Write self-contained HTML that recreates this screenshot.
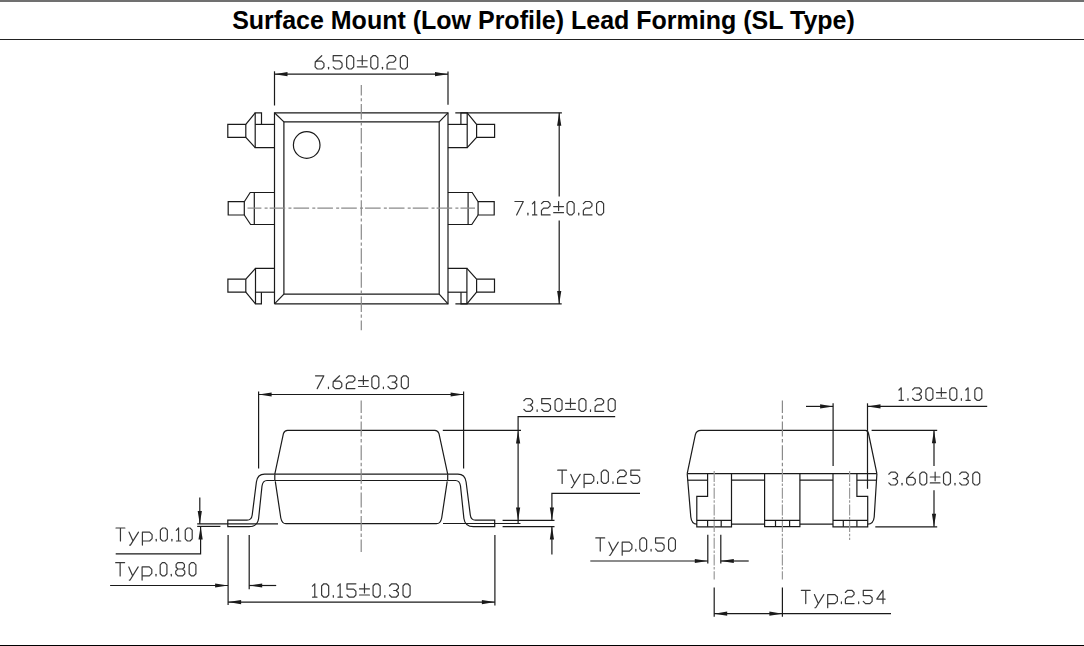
<!DOCTYPE html>
<html><head><meta charset="utf-8"><style>
html,body{margin:0;padding:0;background:#fff;}
body{width:1084px;height:646px;position:relative;overflow:hidden;}
.top{position:absolute;left:0;top:0;width:1084px;height:2px;background:#707070;}
.hdr{position:absolute;left:0;top:39px;width:1084px;height:1px;background:#222;}
.bot{position:absolute;left:0;top:645px;width:1084px;height:1px;background:#000;}
.title{position:absolute;left:1.5px;top:6px;width:1084px;text-align:center;font:bold 25px "Liberation Sans",sans-serif;color:#000;white-space:nowrap;}
svg{position:absolute;left:0;top:0;}
svg line,svg polyline,svg path,svg circle{fill:none;stroke:#1a1a1a;stroke-width:1.2;}
svg .txt path{stroke:#383838;stroke-width:1.2;vector-effect:non-scaling-stroke;stroke-linejoin:round;stroke-linecap:round;}
svg .ah{fill:#1a1a1a;stroke:none;}
svg .cl{stroke:#8a8a8a;stroke-dasharray:15.6 3.2 3 2.05;stroke-dashoffset:1.7;}
svg .clv{stroke:#8a8a8a;stroke-dasharray:15.5 2.7 3.2 2.65;stroke-dashoffset:5.05;}
svg .clv2{stroke:#8a8a8a;stroke-dasharray:15 2.5 3.5 2.6;stroke-dashoffset:2.6;}
svg .clv3{stroke:#9a9a9a;stroke-dasharray:11 1.6 2.5 1.6;}
</style></head><body>
<div class="top"></div>
<div class="title">Surface Mount (Low Profile) Lead Forming (SL Type)</div>
<div class="hdr"></div>
<div class="bot"></div>
<svg width="1084" height="646" viewBox="0 0 1084 646">
<polyline points="274.5,303.8 274.5,112.8 448,112.8 448,303.8 274.5,303.8"/>
<polyline points="283.9,294.2 283.9,121.9 439.2,121.9 439.2,294.2 283.9,294.2"/>
<line x1="274.5" y1="112.8" x2="283.9" y2="121.9"/>
<line x1="448" y1="112.8" x2="439.2" y2="121.9"/>
<line x1="274.5" y1="303.8" x2="283.9" y2="294.2"/>
<line x1="448" y1="303.8" x2="439.2" y2="294.2"/>
<circle cx="306.7" cy="145" r="13.3"/>
<polyline points="274.5,124.4 255.2,124.4"/>
<polyline points="274.5,147.7 255.2,147.7 255.2,112.8 261.5,112.8 261.5,124.4"/>
<polyline points="255.2,112.8 245.8,124.4 227.8,124.4 227.8,137.4 245.8,137.4 255.2,147.7"/>
<line x1="245.8" y1="124.4" x2="245.8" y2="137.4"/>
<polyline points="274.5,192.5 250.2,192.5 244.3,201.7 228.2,201.7 228.2,215 244.3,215 250.6,224.5 274.5,224.5"/>
<line x1="244.3" y1="201.7" x2="244.3" y2="215"/>
<line x1="254.3" y1="192.5" x2="254.3" y2="224.5"/>
<polyline points="274.5,292.2 255.5,292.2"/>
<polyline points="274.5,268.4 255.5,268.4 255.5,303.8 261.4,303.8 261.4,292.2"/>
<polyline points="255.5,268.4 245.8,279.2 227.9,279.2 227.9,292.2 245.8,292.2 255.5,303.8"/>
<line x1="245.8" y1="279.2" x2="245.8" y2="292.2"/>
<g transform="translate(722.4,0) scale(-1,1)"><polyline points="274.5,124.4 255.2,124.4"/><polyline points="274.5,147.7 255.2,147.7 255.2,112.8 261.5,112.8 261.5,124.4"/><polyline points="255.2,112.8 245.8,124.4 227.8,124.4 227.8,137.4 245.8,137.4 255.2,147.7"/><line x1="245.8" y1="124.4" x2="245.8" y2="137.4"/><polyline points="274.5,192.5 250.2,192.5 244.3,201.7 228.2,201.7 228.2,215 244.3,215 250.6,224.5 274.5,224.5"/><line x1="244.3" y1="201.7" x2="244.3" y2="215"/><line x1="254.3" y1="192.5" x2="254.3" y2="224.5"/><polyline points="274.5,292.2 255.5,292.2"/><polyline points="274.5,268.4 255.5,268.4 255.5,303.8 261.4,303.8 261.4,292.2"/><polyline points="255.5,268.4 245.8,279.2 227.9,279.2 227.9,292.2 245.8,292.2 255.5,303.8"/><line x1="245.8" y1="279.2" x2="245.8" y2="292.2"/></g>
<line x1="247.5" y1="208.1" x2="475" y2="208.1" class="cl"/>
<line x1="361.3" y1="85" x2="361.3" y2="330.2" class="clv"/>
<line x1="274.5" y1="71.3" x2="274.5" y2="105.5"/>
<line x1="448" y1="71.4" x2="448" y2="104.8"/>
<line x1="274.5" y1="74.2" x2="448" y2="74.2"/>
<polygon class="ah" points="274.50,74.20 287.50,72.10 287.50,76.30"/>
<polygon class="ah" points="448.00,74.20 435.00,72.10 435.00,76.30"/>
<g transform="translate(315.10,55.70) scale(1.0054,0.9925)" class="txt"><path transform="translate(0.00,0)" d="M6.6,0 L0.2,6.2 L0,11.2 L2.2,13.4 L6.6000000000000005,13.4 L8.8,11.2 L8.8,7.7 L6.6000000000000005,5.5 L2.2,5.5 L0.2,6.2"/><path transform="translate(13.40,0)" d="M0,11.700000000000001 L0,13.4"/><path transform="translate(18.00,0)" d="M8.8,0 L0,0 L0,5.3 L6.6000000000000005,5.3 L8.8,7.5 L8.8,11.2 L6.6000000000000005,13.4 L2.2,13.4 L0,11.2"/><path transform="translate(31.40,0)" d="M2.2,0 L4.8,0 L7.0,2.2 L7.0,11.2 L4.8,13.4 L2.2,13.4 L0,11.2 L0,2.2 Z"/><path transform="translate(42.00,0)" d="M0,5.1 L9.8,5.1 M4.9,0 L4.9,9.1 M0,11.2 L9.8,11.2"/><path transform="translate(55.40,0)" d="M2.2,0 L4.8,0 L7.0,2.2 L7.0,11.2 L4.8,13.4 L2.2,13.4 L0,11.2 L0,2.2 Z"/><path transform="translate(67.00,0)" d="M0,11.700000000000001 L0,13.4"/><path transform="translate(71.60,0)" d="M0,2.2 L2.2,0 L6.3999999999999995,0 L8.6,2.2 L8.6,4.4 L6.3999999999999995,6.6000000000000005 L2.2,6.6000000000000005 L0,8.8 L0,13.4 L8.6,13.4"/><path transform="translate(84.80,0)" d="M2.2,0 L4.8,0 L7.0,2.2 L7.0,11.2 L4.8,13.4 L2.2,13.4 L0,11.2 L0,2.2 Z"/></g>
<line x1="455.3" y1="112.8" x2="561.9" y2="112.8"/>
<line x1="455.4" y1="303.9" x2="561.7" y2="303.9"/>
<line x1="559.2" y1="112.8" x2="559.2" y2="196.6"/>
<line x1="559.2" y1="220.4" x2="559.2" y2="303.9"/>
<polygon class="ah" points="559.20,112.80 557.10,125.80 561.30,125.80"/>
<polygon class="ah" points="559.20,303.90 557.10,290.90 561.30,290.90"/>
<g transform="translate(514.90,201.50) scale(1.0023,1.0000)" class="txt"><path transform="translate(0.00,0)" d="M0,0 L8.4,0 L1.7,13.4"/><path transform="translate(13.00,0)" d="M0,11.700000000000001 L0,13.4"/><path transform="translate(17.60,0)" d="M-0.1499999999999999,2.4 L2.15,0 L2.15,13.4 M0,13.4 L4.3,13.4"/><path transform="translate(26.50,0)" d="M0,2.2 L2.2,0 L6.3999999999999995,0 L8.6,2.2 L8.6,4.4 L6.3999999999999995,6.6000000000000005 L2.2,6.6000000000000005 L0,8.8 L0,13.4 L8.6,13.4"/><path transform="translate(38.70,0)" d="M0,5.1 L9.8,5.1 M4.9,0 L4.9,9.1 M0,11.2 L9.8,11.2"/><path transform="translate(52.10,0)" d="M2.2,0 L4.8,0 L7.0,2.2 L7.0,11.2 L4.8,13.4 L2.2,13.4 L0,11.2 L0,2.2 Z"/><path transform="translate(63.70,0)" d="M0,11.700000000000001 L0,13.4"/><path transform="translate(68.30,0)" d="M0,2.2 L2.2,0 L6.3999999999999995,0 L8.6,2.2 L8.6,4.4 L6.3999999999999995,6.6000000000000005 L2.2,6.6000000000000005 L0,8.8 L0,13.4 L8.6,13.4"/><path transform="translate(81.50,0)" d="M2.2,0 L4.8,0 L7.0,2.2 L7.0,11.2 L4.8,13.4 L2.2,13.4 L0,11.2 L0,2.2 Z"/></g>
<path d="M274.8,474.2 L283.4,433.6 Q284.6,430.4 287.5,430.4 L434.9,430.4 Q437.8,430.4 439,433.6 L447.7,474.2"/>
<line x1="274.8" y1="474.2" x2="274.8" y2="480.5"/>
<line x1="447.7" y1="474.2" x2="447.7" y2="480.5"/>
<path d="M275.3,481.4 L280.8,518 Q282,523.7 286,523.7 L436.5,523.7 Q440.5,523.7 441.7,518 L447.2,481.4"/>
<path d="M274.8,474.2 L264.6,474.2 Q257.5,474.2 256.4,482 L252.2,515 Q251.5,520.2 247,520.2 L227.8,520.2 L227.8,526.7 L249,526.7 Q257.5,526.7 258.6,518.5 L262,486 Q262.8,480.5 267,480.5 L274.8,480.5"/>
<g transform="translate(722.5,0) scale(-1,1)"><path d="M274.8,474.2 L264.6,474.2 Q257.5,474.2 256.4,482 L252.2,515 Q251.5,520.2 247,520.2 L227.8,520.2 L227.8,526.7 L249,526.7 Q257.5,526.7 258.6,518.5 L262,486 Q262.8,480.5 267,480.5 L274.8,480.5"/></g>
<line x1="274.8" y1="474.2" x2="447.7" y2="474.2"/>
<line x1="274.8" y1="480.5" x2="447.7" y2="480.5"/>
<line x1="361.2" y1="400.6" x2="361.2" y2="552" class="clv2"/>
<line x1="258.6" y1="391.6" x2="258.6" y2="468.6"/>
<line x1="463.6" y1="391.6" x2="463.6" y2="468.5"/>
<line x1="258.6" y1="394.5" x2="463.6" y2="394.5"/>
<polygon class="ah" points="258.60,394.50 271.60,392.40 271.60,396.60"/>
<polygon class="ah" points="463.60,394.50 450.60,392.40 450.60,396.60"/>
<g transform="translate(315.50,375.80) scale(0.9957,0.9552)" class="txt"><path transform="translate(0.00,0)" d="M0,0 L8.4,0 L1.7,13.4"/><path transform="translate(13.00,0)" d="M0,11.700000000000001 L0,13.4"/><path transform="translate(17.60,0)" d="M6.6,0 L0.2,6.2 L0,11.2 L2.2,13.4 L6.6000000000000005,13.4 L8.8,11.2 L8.8,7.7 L6.6000000000000005,5.5 L2.2,5.5 L0.2,6.2"/><path transform="translate(31.00,0)" d="M0,2.2 L2.2,0 L6.3999999999999995,0 L8.6,2.2 L8.6,4.4 L6.3999999999999995,6.6000000000000005 L2.2,6.6000000000000005 L0,8.8 L0,13.4 L8.6,13.4"/><path transform="translate(43.20,0)" d="M0,5.1 L9.8,5.1 M4.9,0 L4.9,9.1 M0,11.2 L9.8,11.2"/><path transform="translate(56.60,0)" d="M2.2,0 L4.8,0 L7.0,2.2 L7.0,11.2 L4.8,13.4 L2.2,13.4 L0,11.2 L0,2.2 Z"/><path transform="translate(68.20,0)" d="M0,11.700000000000001 L0,13.4"/><path transform="translate(72.80,0)" d="M0,2.2 L2.2,0 L6.6000000000000005,0 L8.8,2.2 L8.8,4.5 L6.6000000000000005,6.7 L6.6000000000000005,6.7 L8.8,8.9 L8.8,11.2 L6.6000000000000005,13.4 L2.2,13.4 L0,11.2 M4.2,6.7 L6.6000000000000005,6.7"/><path transform="translate(86.20,0)" d="M2.2,0 L4.8,0 L7.0,2.2 L7.0,11.2 L4.8,13.4 L2.2,13.4 L0,11.2 L0,2.2 Z"/></g>
<line x1="442.8" y1="430.4" x2="521" y2="430.4"/>
<polyline points="615.2,416.6 518.1,416.6 518.1,523.7"/>
<polygon class="ah" points="518.10,430.40 516.00,443.40 520.20,443.40"/>
<polygon class="ah" points="518.10,520.40 516.00,507.40 520.20,507.40"/>
<g transform="translate(523.80,398.60) scale(0.9956,0.9552)" class="txt"><path transform="translate(0.00,0)" d="M0,2.2 L2.2,0 L6.6000000000000005,0 L8.8,2.2 L8.8,4.5 L6.6000000000000005,6.7 L6.6000000000000005,6.7 L8.8,8.9 L8.8,11.2 L6.6000000000000005,13.4 L2.2,13.4 L0,11.2 M4.2,6.7 L6.6000000000000005,6.7"/><path transform="translate(13.40,0)" d="M0,11.700000000000001 L0,13.4"/><path transform="translate(18.00,0)" d="M8.8,0 L0,0 L0,5.3 L6.6000000000000005,5.3 L8.8,7.5 L8.8,11.2 L6.6000000000000005,13.4 L2.2,13.4 L0,11.2"/><path transform="translate(31.40,0)" d="M2.2,0 L4.8,0 L7.0,2.2 L7.0,11.2 L4.8,13.4 L2.2,13.4 L0,11.2 L0,2.2 Z"/><path transform="translate(42.00,0)" d="M0,5.1 L9.8,5.1 M4.9,0 L4.9,9.1 M0,11.2 L9.8,11.2"/><path transform="translate(55.40,0)" d="M2.2,0 L4.8,0 L7.0,2.2 L7.0,11.2 L4.8,13.4 L2.2,13.4 L0,11.2 L0,2.2 Z"/><path transform="translate(67.00,0)" d="M0,11.700000000000001 L0,13.4"/><path transform="translate(71.60,0)" d="M0,2.2 L2.2,0 L6.3999999999999995,0 L8.6,2.2 L8.6,4.4 L6.3999999999999995,6.6000000000000005 L2.2,6.6000000000000005 L0,8.8 L0,13.4 L8.6,13.4"/><path transform="translate(84.80,0)" d="M2.2,0 L4.8,0 L7.0,2.2 L7.0,11.2 L4.8,13.4 L2.2,13.4 L0,11.2 L0,2.2 Z"/></g>
<line x1="502.6" y1="520.4" x2="554.5" y2="520.4"/>
<line x1="502.6" y1="526.6" x2="554.5" y2="526.6"/>
<line x1="278" y1="523.9" x2="197.2" y2="523.9"/>
<line x1="443" y1="523.5" x2="520.5" y2="523.5"/>
<polyline points="640,493.3 551.9,493.3 551.9,520.4"/>
<polygon class="ah" points="551.90,520.40 549.80,507.40 554.00,507.40"/>
<line x1="551.9" y1="526.6" x2="551.9" y2="554.5"/>
<polygon class="ah" points="551.90,526.60 549.80,539.60 554.00,539.60"/>
<g transform="translate(557.70,470.20) scale(1,0.9851)" class="txt"><path d="M0,0 L8.9,0 M4.45,0 L4.45,13.4"/><path d="M13.1,4.3 L17.0,13.4 M22.5,4.3 L14.4,17.6 L13.6,17.6"/><path d="M26.4,17.6 L26.4,4.3 L33.6,4.3 L36.1,6.8 L36.1,10.9 L33.6,13.4 L26.4,13.4"/><path transform="translate(39.85,0)" d="M0,11.700000000000001 L0,13.4"/></g><g transform="translate(601.30,470.20) scale(1.0052,0.9851)" class="txt"><path transform="translate(0.00,0)" d="M2.2,0 L4.8,0 L7.0,2.2 L7.0,11.2 L4.8,13.4 L2.2,13.4 L0,11.2 L0,2.2 Z"/><path transform="translate(11.60,0)" d="M0,11.700000000000001 L0,13.4"/><path transform="translate(16.20,0)" d="M0,2.2 L2.2,0 L6.3999999999999995,0 L8.6,2.2 L8.6,4.4 L6.3999999999999995,6.6000000000000005 L2.2,6.6000000000000005 L0,8.8 L0,13.4 L8.6,13.4"/><path transform="translate(29.40,0)" d="M8.8,0 L0,0 L0,5.3 L6.6000000000000005,5.3 L8.8,7.5 L8.8,11.2 L6.6000000000000005,13.4 L2.2,13.4 L0,11.2"/></g>
<line x1="197.2" y1="526.4" x2="220.4" y2="526.4"/>
<line x1="199.8" y1="497.4" x2="199.8" y2="523.9"/>
<polygon class="ah" points="199.80,523.90 197.70,510.90 201.90,510.90"/>
<polyline points="115.7,553.8 200.6,553.8 200.6,526.4"/>
<polygon class="ah" points="200.60,526.40 198.50,539.40 202.70,539.40"/>
<g transform="translate(116.00,528.00) scale(1,0.9701)" class="txt"><path d="M0,0 L8.9,0 M4.45,0 L4.45,13.4"/><path d="M13.1,4.3 L17.0,13.4 M22.5,4.3 L14.4,17.6 L13.6,17.6"/><path d="M26.4,17.6 L26.4,4.3 L33.6,4.3 L36.1,6.8 L36.1,10.9 L33.6,13.4 L26.4,13.4"/><path transform="translate(40.25,0)" d="M0,11.700000000000001 L0,13.4"/></g><g transform="translate(160.40,528.00) scale(0.9907,0.9701)" class="txt"><path transform="translate(0.00,0)" d="M2.2,0 L4.8,0 L7.0,2.2 L7.0,11.2 L4.8,13.4 L2.2,13.4 L0,11.2 L0,2.2 Z"/><path transform="translate(11.60,0)" d="M0,11.700000000000001 L0,13.4"/><path transform="translate(16.20,0)" d="M-0.1499999999999999,2.4 L2.15,0 L2.15,13.4 M0,13.4 L4.3,13.4"/><path transform="translate(25.10,0)" d="M2.2,0 L4.8,0 L7.0,2.2 L7.0,11.2 L4.8,13.4 L2.2,13.4 L0,11.2 L0,2.2 Z"/></g>
<line x1="228.1" y1="535" x2="228.1" y2="605"/>
<line x1="249.2" y1="535" x2="249.2" y2="589.2"/>
<line x1="110.1" y1="585.5" x2="228.1" y2="585.5"/>
<polygon class="ah" points="228.10,585.50 215.10,583.40 215.10,587.60"/>
<line x1="249.2" y1="585.5" x2="276.2" y2="585.5"/>
<polygon class="ah" points="249.20,585.50 262.20,583.40 262.20,587.60"/>
<g transform="translate(115.70,562.70) scale(1,0.9851)" class="txt"><path d="M0,0 L8.9,0 M4.45,0 L4.45,13.4"/><path d="M13.1,4.3 L17.0,13.4 M22.5,4.3 L14.4,17.6 L13.6,17.6"/><path d="M26.4,17.6 L26.4,4.3 L33.6,4.3 L36.1,6.8 L36.1,10.9 L33.6,13.4 L26.4,13.4"/><path transform="translate(40.30,0)" d="M0,11.700000000000001 L0,13.4"/></g><g transform="translate(160.20,562.70) scale(0.9597,0.9851)" class="txt"><path transform="translate(0.00,0)" d="M2.2,0 L4.8,0 L7.0,2.2 L7.0,11.2 L4.8,13.4 L2.2,13.4 L0,11.2 L0,2.2 Z"/><path transform="translate(11.60,0)" d="M0,11.700000000000001 L0,13.4"/><path transform="translate(16.20,0)" d="M2.2,0 L7.2,0 L9.0,1.7600000000000002 L9.0,4.640000000000001 L7.2,6.4 L2.2,6.4 L0.4,4.640000000000001 L0.4,1.7600000000000002 Z M2.2,6.4 L0,8.600000000000001 L0,11.2 L2.2,13.4 L7.2,13.4 L9.4,11.2 L9.4,8.600000000000001 L7.2,6.4"/><path transform="translate(30.20,0)" d="M2.2,0 L4.8,0 L7.0,2.2 L7.0,11.2 L4.8,13.4 L2.2,13.4 L0,11.2 L0,2.2 Z"/></g>
<line x1="494.9" y1="535.1" x2="494.9" y2="605.4"/>
<line x1="228.1" y1="602.1" x2="494.9" y2="602.1"/>
<polygon class="ah" points="228.10,602.10 241.10,600.00 241.10,604.20"/>
<polygon class="ah" points="494.90,602.10 481.90,600.00 481.90,604.20"/>
<g transform="translate(312.60,583.80) scale(1.0114,1.0000)" class="txt"><path transform="translate(0.00,0)" d="M-0.1499999999999999,2.4 L2.15,0 L2.15,13.4 M0,13.4 L4.3,13.4"/><path transform="translate(8.90,0)" d="M2.2,0 L4.8,0 L7.0,2.2 L7.0,11.2 L4.8,13.4 L2.2,13.4 L0,11.2 L0,2.2 Z"/><path transform="translate(20.50,0)" d="M0,11.700000000000001 L0,13.4"/><path transform="translate(25.10,0)" d="M-0.1499999999999999,2.4 L2.15,0 L2.15,13.4 M0,13.4 L4.3,13.4"/><path transform="translate(34.00,0)" d="M8.8,0 L0,0 L0,5.3 L6.6000000000000005,5.3 L8.8,7.5 L8.8,11.2 L6.6000000000000005,13.4 L2.2,13.4 L0,11.2"/><path transform="translate(46.40,0)" d="M0,5.1 L9.8,5.1 M4.9,0 L4.9,9.1 M0,11.2 L9.8,11.2"/><path transform="translate(59.80,0)" d="M2.2,0 L4.8,0 L7.0,2.2 L7.0,11.2 L4.8,13.4 L2.2,13.4 L0,11.2 L0,2.2 Z"/><path transform="translate(71.40,0)" d="M0,11.700000000000001 L0,13.4"/><path transform="translate(76.00,0)" d="M0,2.2 L2.2,0 L6.6000000000000005,0 L8.8,2.2 L8.8,4.5 L6.6000000000000005,6.7 L6.6000000000000005,6.7 L8.8,8.9 L8.8,11.2 L6.6000000000000005,13.4 L2.2,13.4 L0,11.2 M4.2,6.7 L6.6000000000000005,6.7"/><path transform="translate(89.40,0)" d="M2.2,0 L4.8,0 L7.0,2.2 L7.0,11.2 L4.8,13.4 L2.2,13.4 L0,11.2 L0,2.2 Z"/></g>
<path d="M687.2,473.7 L695.3,434.9 Q696.4,430.3 701,430.3 L865.5,430.3 Q867.8,430.3 868.5,433.5 L876.9,473.7"/>
<path d="M687.2,473.7 L690.8,517 Q691.6,524.1 697,524.1"/>
<path d="M876.9,473.7 L874.2,517 Q873.5,524.1 867.7,524.1"/>
<line x1="687.2" y1="473.7" x2="876.9" y2="473.7"/>
<line x1="687.5" y1="480.2" x2="707.6" y2="480.2"/>
<line x1="731.5" y1="480.2" x2="764.6" y2="480.2"/>
<line x1="799.9" y1="480.2" x2="833" y2="480.2"/>
<line x1="856.9" y1="480.2" x2="876.6" y2="480.2"/>
<line x1="731.5" y1="524.1" x2="764.6" y2="524.1"/>
<line x1="799.9" y1="524.1" x2="833" y2="524.1"/>
<polyline points="707.6,473.7 707.6,496.4 696.8,496.4 696.8,526.8 731.5,526.8 731.5,473.7"/>
<line x1="696.8" y1="520.3" x2="731.5" y2="520.3"/>
<line x1="707.6" y1="520.3" x2="707.6" y2="526.8"/>
<line x1="721.2" y1="520.3" x2="721.2" y2="526.8"/>
<polyline points="764.6,473.7 764.6,526.6 799.9,526.6 799.9,473.7"/>
<line x1="764.6" y1="520.4" x2="799.9" y2="520.4"/>
<line x1="775.5" y1="520.4" x2="775.5" y2="526.6"/>
<line x1="789.6" y1="520.4" x2="789.6" y2="526.6"/>
<polyline points="856.9,473.7 856.9,496.4 867.7,496.4 867.7,526.8 833,526.8 833,473.7"/>
<line x1="833" y1="520.3" x2="867.7" y2="520.3"/>
<line x1="843.3" y1="520.3" x2="843.3" y2="526.8"/>
<line x1="856.9" y1="520.3" x2="856.9" y2="526.8"/>
<line x1="714.2" y1="471" x2="714.2" y2="579.6" class="clv3"/>
<line x1="782.4" y1="400.6" x2="782.4" y2="471" class="clv2"/>
<line x1="782.4" y1="471" x2="782.4" y2="579.6" class="clv3"/>
<line x1="849.6" y1="471" x2="849.6" y2="540" class="clv3"/>
<line x1="714.2" y1="587.4" x2="714.2" y2="616.8"/>
<line x1="782.4" y1="587.4" x2="782.4" y2="616.8"/>
<line x1="833.1" y1="403.3" x2="833.1" y2="466"/>
<line x1="867.5" y1="403.3" x2="867.5" y2="488.8"/>
<line x1="806" y1="406.4" x2="833.1" y2="406.4"/>
<polygon class="ah" points="833.10,406.40 820.10,404.30 820.10,408.50"/>
<line x1="867.5" y1="406.4" x2="987.2" y2="406.4"/>
<polygon class="ah" points="867.50,406.40 880.50,404.30 880.50,408.50"/>
<g transform="translate(899.10,387.80) scale(0.9964,0.9328)" class="txt"><path transform="translate(0.00,0)" d="M-0.1499999999999999,2.4 L2.15,0 L2.15,13.4 M0,13.4 L4.3,13.4"/><path transform="translate(8.90,0)" d="M0,11.700000000000001 L0,13.4"/><path transform="translate(13.50,0)" d="M0,2.2 L2.2,0 L6.6000000000000005,0 L8.8,2.2 L8.8,4.5 L6.6000000000000005,6.7 L6.6000000000000005,6.7 L8.8,8.9 L8.8,11.2 L6.6000000000000005,13.4 L2.2,13.4 L0,11.2 M4.2,6.7 L6.6000000000000005,6.7"/><path transform="translate(26.90,0)" d="M2.2,0 L4.8,0 L7.0,2.2 L7.0,11.2 L4.8,13.4 L2.2,13.4 L0,11.2 L0,2.2 Z"/><path transform="translate(37.50,0)" d="M0,5.1 L9.8,5.1 M4.9,0 L4.9,9.1 M0,11.2 L9.8,11.2"/><path transform="translate(50.90,0)" d="M2.2,0 L4.8,0 L7.0,2.2 L7.0,11.2 L4.8,13.4 L2.2,13.4 L0,11.2 L0,2.2 Z"/><path transform="translate(62.50,0)" d="M0,11.700000000000001 L0,13.4"/><path transform="translate(67.10,0)" d="M-0.1499999999999999,2.4 L2.15,0 L2.15,13.4 M0,13.4 L4.3,13.4"/><path transform="translate(76.00,0)" d="M2.2,0 L4.8,0 L7.0,2.2 L7.0,11.2 L4.8,13.4 L2.2,13.4 L0,11.2 L0,2.2 Z"/></g>
<line x1="871.6" y1="430.3" x2="937.2" y2="430.3"/>
<line x1="875.3" y1="526.8" x2="937.2" y2="526.8"/>
<line x1="934" y1="430.3" x2="934" y2="466.1"/>
<line x1="934" y1="490.3" x2="934" y2="526.8"/>
<polygon class="ah" points="934.00,430.30 931.90,443.30 936.10,443.30"/>
<polygon class="ah" points="934.00,526.80 931.90,513.80 936.10,513.80"/>
<g transform="translate(888.80,472.10) scale(0.9880,0.9627)" class="txt"><path transform="translate(0.00,0)" d="M0,2.2 L2.2,0 L6.6000000000000005,0 L8.8,2.2 L8.8,4.5 L6.6000000000000005,6.7 L6.6000000000000005,6.7 L8.8,8.9 L8.8,11.2 L6.6000000000000005,13.4 L2.2,13.4 L0,11.2 M4.2,6.7 L6.6000000000000005,6.7"/><path transform="translate(13.40,0)" d="M0,11.700000000000001 L0,13.4"/><path transform="translate(18.00,0)" d="M6.6,0 L0.2,6.2 L0,11.2 L2.2,13.4 L6.6000000000000005,13.4 L8.8,11.2 L8.8,7.7 L6.6000000000000005,5.5 L2.2,5.5 L0.2,6.2"/><path transform="translate(31.40,0)" d="M2.2,0 L4.8,0 L7.0,2.2 L7.0,11.2 L4.8,13.4 L2.2,13.4 L0,11.2 L0,2.2 Z"/><path transform="translate(42.00,0)" d="M0,5.1 L9.8,5.1 M4.9,0 L4.9,9.1 M0,11.2 L9.8,11.2"/><path transform="translate(55.40,0)" d="M2.2,0 L4.8,0 L7.0,2.2 L7.0,11.2 L4.8,13.4 L2.2,13.4 L0,11.2 L0,2.2 Z"/><path transform="translate(67.00,0)" d="M0,11.700000000000001 L0,13.4"/><path transform="translate(71.60,0)" d="M0,2.2 L2.2,0 L6.6000000000000005,0 L8.8,2.2 L8.8,4.5 L6.6000000000000005,6.7 L6.6000000000000005,6.7 L8.8,8.9 L8.8,11.2 L6.6000000000000005,13.4 L2.2,13.4 L0,11.2 M4.2,6.7 L6.6000000000000005,6.7"/><path transform="translate(85.00,0)" d="M2.2,0 L4.8,0 L7.0,2.2 L7.0,11.2 L4.8,13.4 L2.2,13.4 L0,11.2 L0,2.2 Z"/></g>
<line x1="707.8" y1="534.8" x2="707.8" y2="563.6"/>
<line x1="720.8" y1="534.8" x2="720.8" y2="563.6"/>
<line x1="590.3" y1="561" x2="707.8" y2="561"/>
<polygon class="ah" points="707.80,561.00 694.80,558.90 694.80,563.10"/>
<line x1="720.8" y1="561" x2="748.7" y2="561"/>
<polygon class="ah" points="720.80,561.00 733.80,558.90 733.80,563.10"/>
<g transform="translate(595.80,537.90) scale(1,0.9851)" class="txt"><path d="M0,0 L8.9,0 M4.45,0 L4.45,13.4"/><path d="M13.1,4.3 L17.0,13.4 M22.5,4.3 L14.4,17.6 L13.6,17.6"/><path d="M26.4,17.6 L26.4,4.3 L33.6,4.3 L36.1,6.8 L36.1,10.9 L33.6,13.4 L26.4,13.4"/><path transform="translate(40.05,0)" d="M0,11.700000000000001 L0,13.4"/></g><g transform="translate(639.80,537.90) scale(0.9727,0.9851)" class="txt"><path transform="translate(0.00,0)" d="M2.2,0 L4.8,0 L7.0,2.2 L7.0,11.2 L4.8,13.4 L2.2,13.4 L0,11.2 L0,2.2 Z"/><path transform="translate(11.60,0)" d="M0,11.700000000000001 L0,13.4"/><path transform="translate(16.20,0)" d="M8.8,0 L0,0 L0,5.3 L6.6000000000000005,5.3 L8.8,7.5 L8.8,11.2 L6.6000000000000005,13.4 L2.2,13.4 L0,11.2"/><path transform="translate(29.60,0)" d="M2.2,0 L4.8,0 L7.0,2.2 L7.0,11.2 L4.8,13.4 L2.2,13.4 L0,11.2 L0,2.2 Z"/></g>
<line x1="714.2" y1="613.7" x2="891" y2="613.7"/>
<polygon class="ah" points="714.20,613.70 727.20,611.60 727.20,615.80"/>
<polygon class="ah" points="782.40,613.70 769.40,611.60 769.40,615.80"/>
<g transform="translate(801.30,590.30) scale(1,0.9925)" class="txt"><path d="M0,0 L8.9,0 M4.45,0 L4.45,13.4"/><path d="M13.1,4.3 L17.0,13.4 M22.5,4.3 L14.4,17.6 L13.6,17.6"/><path d="M26.4,17.6 L26.4,4.3 L33.6,4.3 L36.1,6.8 L36.1,10.9 L33.6,13.4 L26.4,13.4"/><path transform="translate(40.10,0)" d="M0,11.700000000000001 L0,13.4"/></g><g transform="translate(845.40,590.30) scale(1.0051,0.9925)" class="txt"><path transform="translate(0.00,0)" d="M0,2.2 L2.2,0 L6.3999999999999995,0 L8.6,2.2 L8.6,4.4 L6.3999999999999995,6.6000000000000005 L2.2,6.6000000000000005 L0,8.8 L0,13.4 L8.6,13.4"/><path transform="translate(13.20,0)" d="M0,11.700000000000001 L0,13.4"/><path transform="translate(17.80,0)" d="M8.8,0 L0,0 L0,5.3 L6.6000000000000005,5.3 L8.8,7.5 L8.8,11.2 L6.6000000000000005,13.4 L2.2,13.4 L0,11.2"/><path transform="translate(31.20,0)" d="M6.2,13.4 L6.2,0 L0,8.9 L8.3,8.9"/></g>
</svg>
</body></html>
